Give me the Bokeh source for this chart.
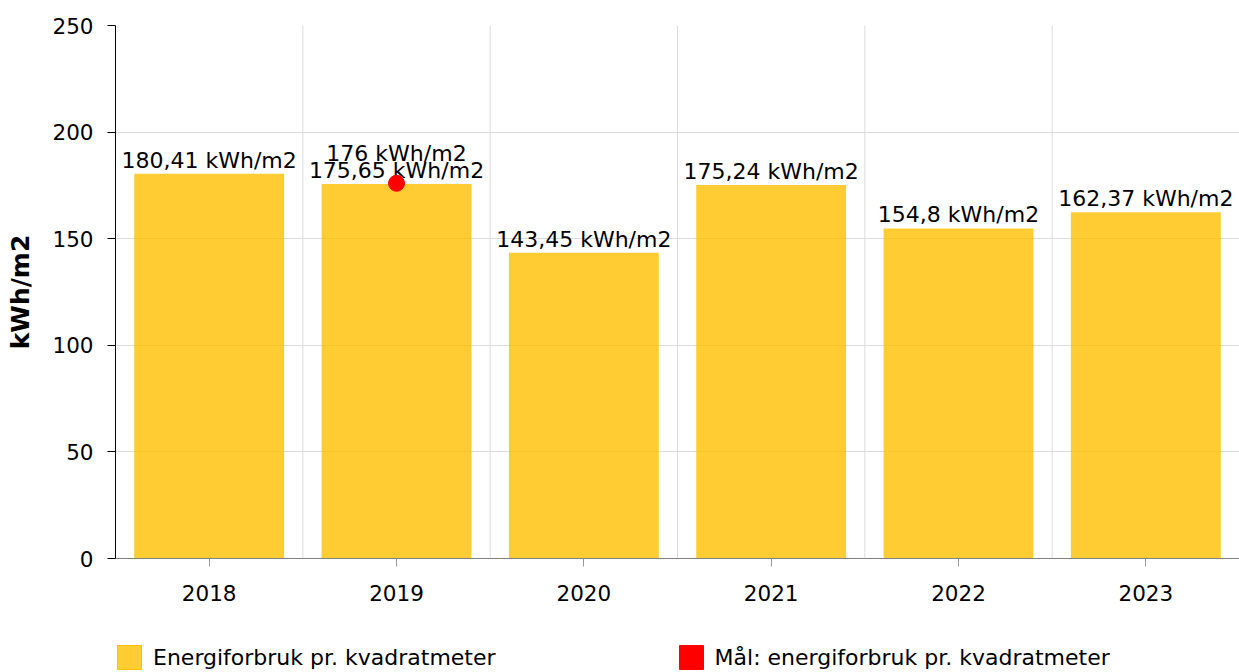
from bokeh.plotting import figure
from bokeh.layouts import column
from bokeh.models import ColumnDataSource, Range1d, FactorRange, SingleIntervalTicker, Legend, LegendItem, Span
from bokeh.core.properties import value
from bokeh.embed import file_html
from bokeh.resources import INLINE

years = ["2018", "2019", "2020", "2021", "2022", "2023"]
energy = [180.41, 175.65, 143.45, 175.24, 154.8, 162.37]
goal_years = ["2019"]
goal_values = [176]
unit = "kWh/m2"
series_names = ["Energiforbruk pr. kvadratmeter", "Mål: energiforbruk pr. kvadratmeter"]

def fmt(v):
    return f"{v:g}".replace(".", ",") + " " + unit

FONT = "DejaVu Sans"
FS = "22px"
TICK_FS = "21.5px"
BAR_COLOR = "#FFC000"
GOAL_COLOR = "#FF0000"

src = ColumnDataSource(dict(x=years, top=energy, label=[fmt(v) for v in energy]))
gsrc = ColumnDataSource(dict(x=goal_years, y=goal_values, label=[fmt(v) for v in goal_values]))

p = figure(x_range=FactorRange(*years, range_padding=0), y_range=Range1d(0, 250),
           width=1239, height=640, output_backend="svg", toolbar_location=None,
           min_border_left=115, min_border_right=0, min_border_top=25, min_border_bottom=82)
p.outline_line_color = None
p.background_fill_color = "white"
p.border_fill_color = "white"

bars = p.vbar(x="x", top="top", width=0.8, source=src, fill_color=BAR_COLOR, fill_alpha=0.8,
              line_color=None)
p.text(x="x", y="top", text="label", source=src, text_align="center", text_baseline="bottom",
       y_offset=-1, text_font=value(FONT), text_font_size=FS, text_color="black")

dot = p.scatter(x="x", y="y", source=gsrc, size=16, fill_color=GOAL_COLOR, line_color=GOAL_COLOR)
p.text(x="x", y="y", text="label", source=gsrc, text_align="center", text_baseline="bottom",
       y_offset=-17, text_font=value(FONT), text_font_size=FS, text_color="black")

# grid
p.ygrid.ticker = SingleIntervalTicker(interval=50)
p.ygrid.grid_line_color = "#dcdcdc"
p.xgrid.grid_line_color = None
for b in range(1, len(years)):
    p.add_layout(Span(location=b, dimension="height", line_color="#dcdcdc", line_width=1))

# axes
p.yaxis.ticker = SingleIntervalTicker(interval=50)
p.yaxis.axis_line_color = "black"
p.yaxis.major_tick_line_color = "black"
p.yaxis.major_tick_out = 8
p.yaxis.major_tick_in = 0
p.yaxis.minor_tick_line_color = None
p.yaxis.major_label_text_font = FONT
p.yaxis.major_label_text_font_size = TICK_FS
p.yaxis.major_label_text_color = "black"
p.yaxis.major_label_standoff = 14
p.yaxis.axis_label = unit
p.yaxis.axis_label_text_font = FONT
p.yaxis.axis_label_text_font_size = "25px"
p.yaxis.axis_label_text_font_style = "bold"
p.yaxis.axis_label_text_color = "black"
p.yaxis.axis_label_standoff = 14

p.xaxis.axis_line_color = "#808080"
p.xaxis.major_tick_line_color = "#999999"
p.xaxis.major_tick_out = 8
p.xaxis.major_tick_in = 0
p.xaxis.major_label_text_font = FONT
p.xaxis.major_label_text_font_size = TICK_FS
p.xaxis.major_label_text_color = "black"
p.xaxis.major_label_standoff = 18

# legend strip (swatch renderers hold one off-screen point each)
pl = figure(width=1239, height=32, x_range=Range1d(0, 1), y_range=Range1d(0, 1),
            output_backend="svg", toolbar_location=None, x_axis_location=None, y_axis_location=None,
            min_border=0)
pl.outline_line_color = None
pl.grid.grid_line_color = None
leg_bar = pl.vbar(x=[-10], top=[-10], bottom=[-11], width=0.8, fill_color=BAR_COLOR, fill_alpha=0.8,
                  line_color=BAR_COLOR)
leg_dot = pl.vbar(x=[-10], top=[-10], bottom=[-11], width=0.8, fill_color=GOAL_COLOR, line_color=GOAL_COLOR)
legend = Legend(items=[LegendItem(label=series_names[0], renderers=[leg_bar]),
                       LegendItem(label=series_names[1], renderers=[leg_dot])],
                orientation="horizontal", location=(-1, 0), glyph_width=30, glyph_height=30,
                label_standoff=9, spacing=180, padding=0, margin=0,
                label_text_font=FONT, label_text_font_size=FS, label_text_color="black",
                background_fill_alpha=0, border_line_color=None)
pl.add_layout(legend, "center")

open("out.html", "w").write(file_html(column(p, pl, spacing=0), INLINE))
